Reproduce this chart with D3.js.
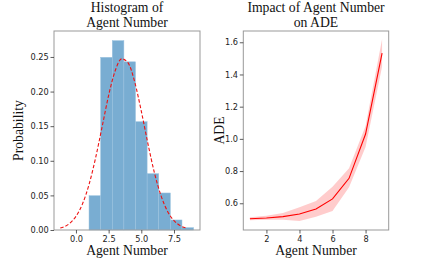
<!DOCTYPE html>
<html>
<head>
<meta charset="utf-8">
<style>
body { margin: 0; background: #fff; }
svg { display: block; }
.tick text { font-family: "DejaVu Sans", sans-serif; font-size: 8.2px; fill: #222; }
.ttl, .lab { font-family: "Liberation Serif", "Times New Roman", serif; fill: #111; }
</style>
</head>
<body>
<svg width="432" height="259"></svg>
<script src="https://cdn.jsdelivr.net/npm/d3@7"></script>
<script>
// histogram of agent number (9 bins from 1 to 9)
var binEdges = [1, 1.889, 2.778, 3.667, 4.556, 5.444, 6.333, 7.222, 8.111, 9];
var binProb = [0.0496, 0.2495, 0.2736, 0.243, 0.1565, 0.0814, 0.0535, 0.0145, 0.0034];

// fitted normal curve
var curveX = [-1.2, -0.5, 0, 0.5, 1, 1.5, 2, 2.5, 3, 3.5, 4, 4.5, 5, 5.5, 6, 6.5, 7, 7.5, 8, 8.44];
var curveY = [0.0028, 0.0093, 0.0197, 0.0377, 0.0657, 0.104, 0.149, 0.1946, 0.230, 0.2473,
              0.241, 0.2135, 0.1716, 0.1253, 0.0829, 0.0499, 0.0272, 0.0135, 0.0061, 0.0028];

// ADE vs agent number
var agents = [1, 2, 3, 4, 5, 6, 7, 8, 9];
var adeMean = [0.504, 0.509, 0.517, 0.533, 0.565, 0.627, 0.755, 1.03, 1.533];
var adeLow = [0.495, 0.497, 0.497, 0.49, 0.517, 0.552, 0.70, 0.95, 1.45];
var adeHigh = [0.513, 0.522, 0.54, 0.575, 0.614, 0.703, 0.817, 1.08, 1.62];

var svg = d3.select("svg");
var fs = 13.7;

function frame(g, w, h) {
  g.append("rect")
    .attr("x", 0).attr("y", 0)
    .attr("width", w).attr("height", h)
    .attr("fill", "none")
    .attr("stroke", "#999")
    .attr("stroke-width", 1);
}

function styleAxis(a) {
  a.select(".domain").remove();
  a.selectAll(".tick line").attr("stroke", "#333").attr("stroke-width", 0.8);
}

// ---- left: histogram ----
var L = {x: 54, y: 31, w: 146, h: 199};
var gl = svg.append("g").attr("transform", "translate(" + L.x + "," + L.y + ")");

var x1 = d3.scaleLinear().domain([-1.68, 9.49]).range([0, L.w]);
var y1 = d3.scaleLinear().domain([0, 0.2875]).range([L.h, 0]);

gl.selectAll("rect.bar")
  .data(binProb)
  .enter().append("rect")
    .attr("class", "bar")
    .attr("x", function(d, i) { return x1(binEdges[i]); })
    .attr("width", function(d, i) { return x1(binEdges[i + 1]) - x1(binEdges[i]); })
    .attr("y", function(d) { return y1(d); })
    .attr("height", function(d) { return L.h - y1(d); })
    .attr("fill", "#79add2")
    .attr("stroke", "#9cc3df")
    .attr("stroke-width", 0.5);

var normLine = d3.line()
  .x(function(d, i) { return x1(curveX[i]); })
  .y(function(d) { return y1(d); })
  .curve(d3.curveMonotoneX);

gl.append("path")
  .attr("d", normLine(curveY))
  .attr("fill", "none")
  .attr("stroke", "#ee1111")
  .attr("stroke-width", 1.1)
  .attr("stroke-dasharray", "3.5,2");

frame(gl, L.w, L.h);

var ax1 = gl.append("g").attr("transform", "translate(0," + L.h + ")")
  .call(d3.axisBottom(x1).tickValues([0, 2.5, 5, 7.5]).tickFormat(d3.format(".1f")).tickSize(3.5).tickPadding(2.2));
styleAxis(ax1);
var ay1 = gl.append("g")
  .call(d3.axisLeft(y1).tickValues([0, 0.05, 0.1, 0.15, 0.2, 0.25]).tickFormat(d3.format(".2f")).tickSize(3.5).tickPadding(1.8));
styleAxis(ay1);

svg.append("text").attr("class", "ttl").attr("x", L.x + L.w / 2).attr("y", 11.8)
  .attr("text-anchor", "middle").attr("font-size", fs).text("Histogram of");
svg.append("text").attr("class", "ttl").attr("x", L.x + L.w / 2).attr("y", 26.8)
  .attr("text-anchor", "middle").attr("font-size", fs).text("Agent Number");
svg.append("text").attr("class", "lab").attr("x", L.x + L.w / 2).attr("y", 255.3)
  .attr("text-anchor", "middle").attr("font-size", fs).text("Agent Number");
svg.append("text").attr("class", "lab")
  .attr("transform", "translate(22.7," + (L.y + L.h / 2) + ") rotate(-90)")
  .attr("text-anchor", "middle").attr("font-size", fs).text("Probability");

// ---- right: ADE line ----
var R = {x: 243.3, y: 31, w: 145.4, h: 199};
var gr = svg.append("g").attr("transform", "translate(" + R.x + "," + R.y + ")");

var x2 = d3.scaleLinear().domain([0.6, 9.4]).range([0, R.w]);
var y2 = d3.scaleLinear().domain([0.434, 1.67]).range([R.h, 0]);

var band = d3.area()
  .x(function(d, i) { return x2(agents[i]); })
  .y0(function(d, i) { return y2(adeLow[i]); })
  .y1(function(d, i) { return y2(adeHigh[i]); });

gr.append("path")
  .attr("d", band(agents))
  .attr("fill", "#ff0000")
  .attr("fill-opacity", 0.2);

var meanLine = d3.line()
  .x(function(d, i) { return x2(agents[i]); })
  .y(function(d) { return y2(d); });

gr.append("path")
  .attr("d", meanLine(adeMean))
  .attr("fill", "none")
  .attr("stroke", "#ff0000")
  .attr("stroke-width", 1.1);

frame(gr, R.w, R.h);

var ax2 = gr.append("g").attr("transform", "translate(0," + R.h + ")")
  .call(d3.axisBottom(x2).tickValues([2, 4, 6, 8]).tickFormat(d3.format("d")).tickSize(3.5).tickPadding(2.2));
styleAxis(ax2);
var ay2 = gr.append("g")
  .call(d3.axisLeft(y2).tickValues([0.6, 0.8, 1.0, 1.2, 1.4, 1.6]).tickFormat(d3.format(".1f")).tickSize(3.5).tickPadding(1.8));
styleAxis(ay2);

svg.append("text").attr("class", "ttl").attr("x", R.x + R.w / 2).attr("y", 11.8)
  .attr("text-anchor", "middle").attr("font-size", fs).text("Impact of Agent Number");
svg.append("text").attr("class", "ttl").attr("x", R.x + R.w / 2).attr("y", 26.8)
  .attr("text-anchor", "middle").attr("font-size", fs).text("on ADE");
svg.append("text").attr("class", "lab").attr("x", R.x + R.w / 2).attr("y", 255.3)
  .attr("text-anchor", "middle").attr("font-size", fs).text("Agent Number");
svg.append("text").attr("class", "lab")
  .attr("transform", "translate(224," + (R.y + R.h / 2) + ") rotate(-90)")
  .attr("text-anchor", "middle").attr("font-size", fs).text("ADE");
</script>
</body>
</html>
